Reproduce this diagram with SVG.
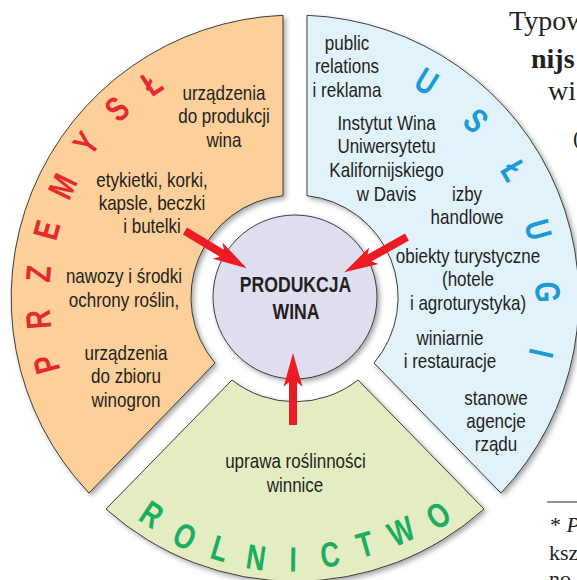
<svg xmlns="http://www.w3.org/2000/svg" xmlns:xlink="http://www.w3.org/1999/xlink" width="577" height="580" viewBox="0 0 577 580">
<defs>
<style>
.t{font-family:"Liberation Sans",Arial,sans-serif;font-size:20px;fill:#231F20;text-anchor:middle}
.c{font-family:"Liberation Sans",Arial,sans-serif;font-weight:bold;font-size:22px;fill:#231F20;text-anchor:middle}
.L{font-family:"Liberation Sans",Arial,sans-serif;font-weight:bold;font-size:35px;text-anchor:middle}
.red{fill:#E52A2F}.blu{fill:#1B9AD6}.grn{fill:#1AAE62}
.pg{font-family:"Liberation Serif","Times New Roman",serif;fill:#231F20}
.sec{stroke:#2b2b2b;stroke-width:0.9;filter:url(#sh)}
.arr{fill:#ED1C24}
</style>
<filter id="sh" x="-10%" y="-10%" width="130%" height="130%">
<feDropShadow dx="2.5" dy="2.5" stdDeviation="2.5" flood-color="#000" flood-opacity="0.35"/>
</filter>
<path id="arrow" d="M0,-4 L43,-4 L38,-9.5 L72,0 L38,9.5 L43,4 L0,4 Z"/>
</defs>
<rect width="577" height="580" fill="#ffffff"/>

<g id="page-text">
<text class="pg" x="509" y="30" font-size="28">Typow</text>
<text class="pg" x="531" y="68" font-size="28" font-weight="bold">nijs</text>
<text class="pg" x="548" y="100" font-size="28">wi</text>
<text class="pg" x="573" y="145" font-size="22">(</text>
<line x1="547" y1="502" x2="577" y2="502" stroke="#231F20" stroke-width="1"/>
<text class="pg" x="550" y="532" font-size="22">* <tspan font-style="italic">P</tspan></text>
<text class="pg" x="549" y="560" font-size="22">ksz</text>
<text class="pg" x="549" y="586" font-size="22">no</text>
</g>

<g id="przemysl">
<path class="sec" fill="#FDCF9A" d="M283,15.3 A283,283 0 0,0 89,493 L215,363 A102,102 0 0,1 283,195.7 Z"/>
<g transform="scale(0.85,1)">
<text class="t" x="263.53" y="100">urządzenia</text>
<text class="t" x="263.53" y="123.5">do produkcji</text>
<text class="t" x="263.53" y="147">wina</text>
<text class="t" x="178.82" y="187">etykietki, korki,</text>
<text class="t" x="178.82" y="210">kapsle, beczki</text>
<text class="t" x="178.82" y="233">i butelki</text>
<text class="t" x="145.88" y="283">nawozy i środki</text>
<text class="t" x="145.88" y="307">ochrony roślin,</text>
<text class="t" x="148.24" y="360">urządzenia</text>
<text class="t" x="148.24" y="383.5">do zbioru</text>
<text class="t" x="148.24" y="407">winogron</text>
</g>
<g class="L red">
<text transform="translate(46,364.6) rotate(-105.2) scale(0.76,1)" y="12.5">P</text>
<text transform="translate(38,319.5) rotate(-95) scale(0.76,1)" y="12.5">R</text>
<text transform="translate(38.1,273.6) rotate(-84.8) scale(0.76,1)" y="12.5">Z</text>
<text transform="translate(46.3,230) rotate(-74.6) scale(0.76,1)" y="12.5">E</text>
<text transform="translate(62.3,186) rotate(-64.4) scale(0.76,1)" y="12.5">M</text>
<text transform="translate(85.7,143) rotate(-54.2) scale(0.76,1)" y="12.5">Y</text>
<text transform="translate(116.8,108.5) rotate(-44) scale(0.76,1)" y="12.5">S</text>
<text transform="translate(151.5,82.6) rotate(-33.8) scale(0.76,1)" y="12.5">Ł</text>
</g>
</g>

<g id="uslugi">
<path class="sec" fill="#E1F2FB" d="M307,15.3 A283,283 0 0,1 501,493 L374,363 A102,102 0 0,0 307,195.7 Z"/>
<g transform="scale(0.85,1)">
<text class="t" x="408.24" y="50">public</text>
<text class="t" x="408.24" y="73.5">relations</text>
<text class="t" x="408.24" y="97">i reklama</text>
<text class="t" x="454.71" y="130">Instytut Wina</text>
<text class="t" x="454.71" y="153.5">Uniwersytetu</text>
<text class="t" x="454.71" y="177">Kalifornijskiego</text>
<text class="t" x="454.71" y="201">w Davis</text>
<text class="t" x="549.41" y="201">izby</text>
<text class="t" x="549.41" y="224.5">handlowe</text>
<text class="t" x="550.59" y="263">obiekty turystyczne</text>
<text class="t" x="550.59" y="286.5">(hotele</text>
<text class="t" x="550.59" y="310">i agroturystyka)</text>
<text class="t" x="529.41" y="345">winiarnie</text>
<text class="t" x="529.41" y="368.5">i restauracje</text>
<text class="t" x="583.53" y="405">stanowe</text>
<text class="t" x="583.53" y="428">agencje</text>
<text class="t" x="583.53" y="451">rządu</text>
</g>
<g class="L blu">
<text transform="translate(426.8,81) rotate(31.4) scale(0.76,1)" y="12.5">U</text>
<text transform="translate(476.1,120.3) rotate(45.7) scale(0.76,1)" y="12.5">S</text>
<text transform="translate(514.1,170.5) rotate(60) scale(0.76,1)" y="12.5">Ł</text>
<text transform="translate(538.6,229.5) rotate(74.3) scale(0.76,1)" y="12.5">U</text>
<text transform="translate(547.9,292) rotate(88.6) scale(0.76,1)" y="12.5">G</text>
<text transform="translate(541.6,353.5) rotate(102.9) scale(0.76,1)" y="12.5">I</text>
</g>
</g>

<g id="rolnictwo">
<path class="sec" fill="#E4EDC2" d="M106,509 A283,283 0 0,0 484,509 L358,380 A102,102 0 0,1 232,380 Z"/>
<g transform="scale(0.85,1)">
<text class="t" x="347.65" y="468">uprawa roślinności</text>
<text class="t" x="347.06" y="492">winnice</text>
</g>
<g class="L grn">
<text transform="translate(152,514) rotate(33.4) scale(0.76,1)" y="12.5">R</text>
<text transform="translate(185,536) rotate(24.7) scale(0.76,1)" y="12.5">O</text>
<text transform="translate(220,548) rotate(16.6) scale(0.76,1)" y="12.5">L</text>
<text transform="translate(256,557) rotate(8.5) scale(0.76,1)" y="12.5">N</text>
<text transform="translate(293,559) rotate(0.7) scale(0.76,1)" y="12.5">I</text>
<text transform="translate(330,554) rotate(-7.5) scale(0.76,1)" y="12.5">C</text>
<text transform="translate(365,544) rotate(-15.6) scale(0.76,1)" y="12.5">T</text>
<text transform="translate(401,531) rotate(-24.4) scale(0.76,1)" y="12.5">W</text>
<text transform="translate(438,515) rotate(-33.3) scale(0.76,1)" y="12.5">O</text>
</g>
</g>

<g id="produkcja-wina">
<circle class="sec" cx="295" cy="297" r="82" fill="#DFDEEE"/>
<g transform="scale(0.8,1)">
<text class="c" x="369.4" y="292.5">PRODUKCJA</text>
<text class="c" x="370" y="319.5">WINA</text>
</g>
</g>

<g id="connectors" class="arr">
<use xlink:href="#arrow" transform="translate(185,231) rotate(31.1)"/>
<use xlink:href="#arrow" transform="translate(407,237) rotate(150.6)"/>
<use xlink:href="#arrow" transform="translate(293,425) rotate(-90)"/>
</g>
</svg>
